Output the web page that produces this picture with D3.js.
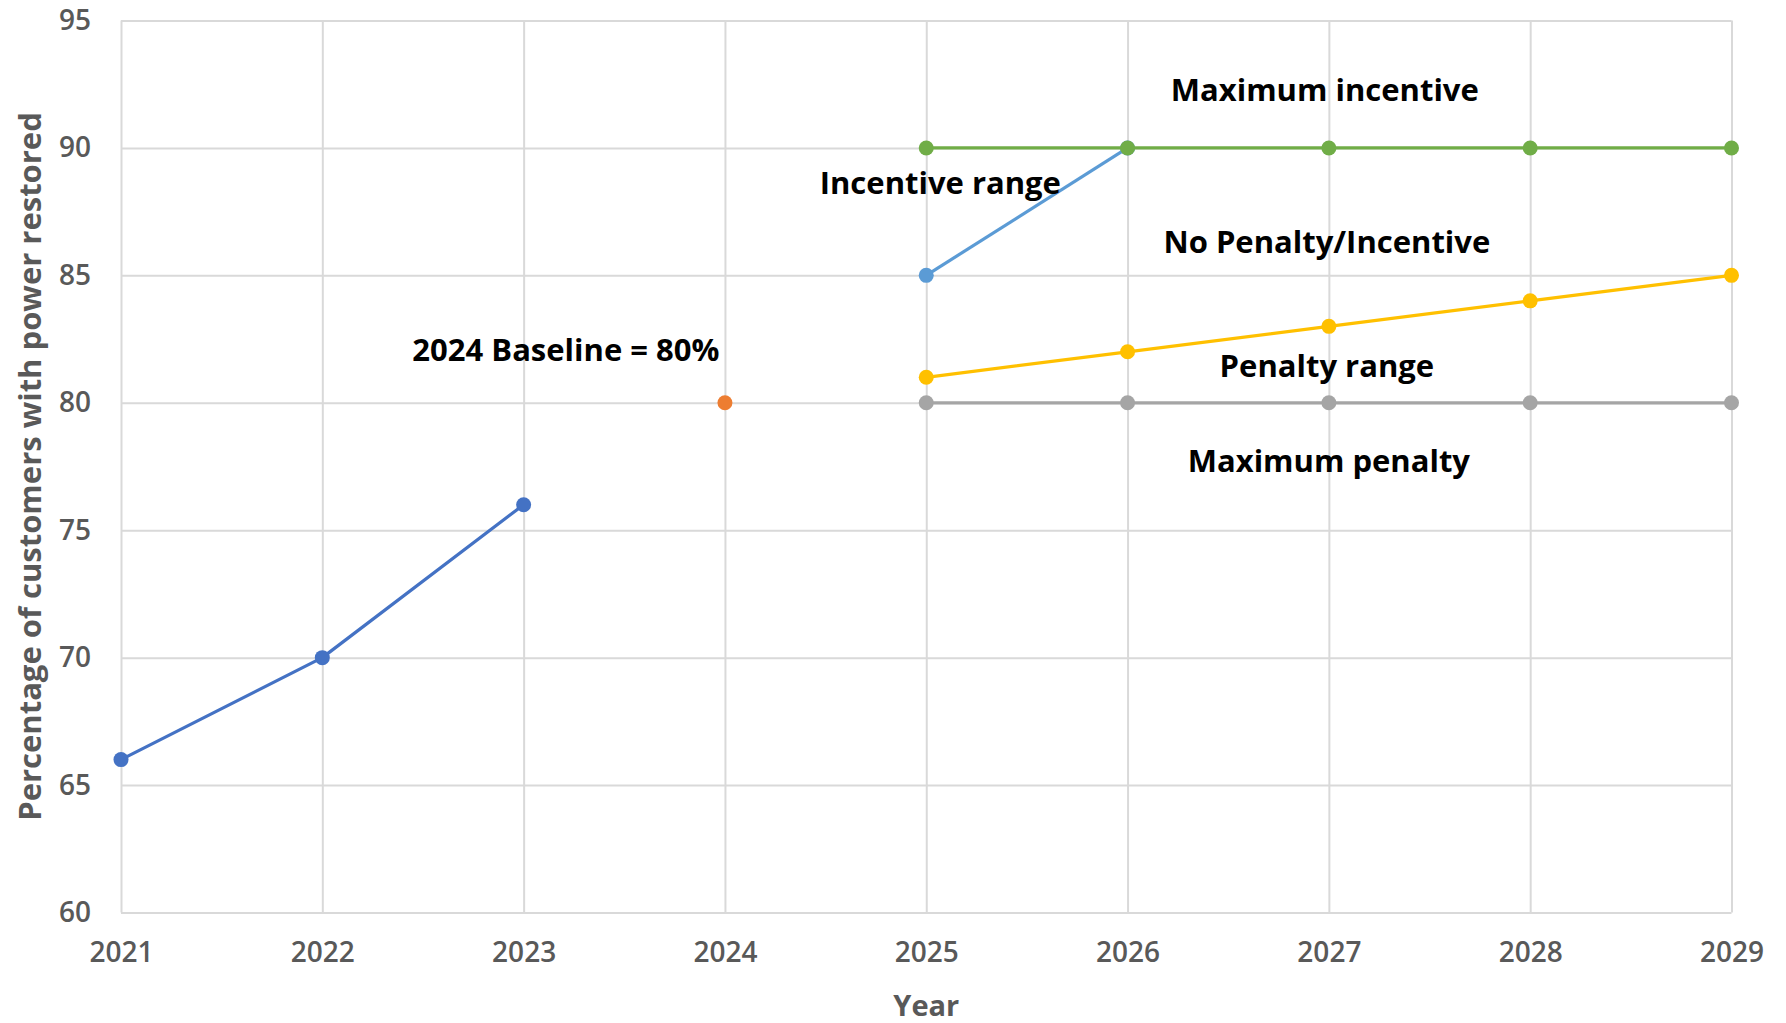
<!DOCTYPE html>
<html>
<head>
<meta charset="utf-8">
<script src="https://cdn.jsdelivr.net/npm/d3@7"></script>
<style>
  html, body { margin: 0; padding: 0; background: #ffffff; }
  svg { display: block; }
  text { font-family: "Open Sans", "Noto Sans", sans-serif; }
</style>
</head>
<body>
<svg id="chart" width="1786" height="1023"></svg>
<script>
// Years on the horizontal axis
const years = [2021, 2022, 2023, 2024, 2025, 2026, 2027, 2028, 2029];
const yTicks = [60, 65, 70, 75, 80, 85, 90, 95];

// Percentage of customers with power restored, by series
const historicalYears = [2021, 2022, 2023];
const historicalValues = [66, 70, 76];

const baselineYears = [2024];
const baselineValues = [80];

const incentiveRangeYears = [2025, 2026];
const incentiveRangeValues = [85, 90];

const targetYears = [2025, 2026, 2027, 2028, 2029];
const maxIncentiveValues = [90, 90, 90, 90, 90];
const noPenaltyValues = [81, 82, 83, 84, 85];
const maxPenaltyValues = [80, 80, 80, 80, 80];

// Annotation text, anchored in chart units (year, percent)
const annotations = [
  { text: "Maximum incentive",    year: 2026.98, value: 91.86 },
  { text: "Incentive range",      year: 2025.07, value: 88.19 },
  { text: "No Penalty/Incentive", year: 2026.99, value: 85.87 },
  { text: "2024 Baseline = 80%",  year: 2023.21, value: 81.62 },
  { text: "Penalty range",        year: 2026.99, value: 81.03 },
  { text: "Maximum penalty",      year: 2027.00, value: 77.30 }
];

const svg = d3.select("#chart");
const plotLeft = 121, plotRight = 1731.5, plotTop = 20.5, plotBottom = 912.5;

const x = d3.scaleLinear().domain([2021, 2029]).range([plotLeft, plotRight]);
const y = d3.scaleLinear().domain([60, 95]).range([plotBottom, plotTop]);

const gridColor = "#d9d9d9";
const labelColor = "#595959";

// Horizontal gridlines
svg.append("g")
  .attr("transform", `translate(${plotLeft},0)`)
  .call(d3.axisLeft(y).tickValues(yTicks).tickSize(-(plotRight - plotLeft)).tickFormat(""))
  .call(g => g.select(".domain").remove())
  .call(g => g.selectAll("line").attr("stroke", gridColor).attr("stroke-width", 2));

// Vertical gridlines
svg.append("g")
  .attr("transform", `translate(0,${plotBottom})`)
  .call(d3.axisBottom(x).tickValues(years).tickSize(-(plotBottom - plotTop)).tickFormat(""))
  .call(g => g.select(".domain").remove())
  .call(g => g.selectAll("line").attr("stroke", gridColor).attr("stroke-width", 2));

// Y tick labels
svg.append("g")
  .attr("transform", `translate(${plotLeft},0)`)
  .call(d3.axisLeft(y).tickValues(yTicks).tickSize(0).tickPadding(30))
  .call(g => g.select(".domain").remove())
  .call(g => g.selectAll("text")
    .attr("fill", labelColor)
    .attr("font-family", "'Open Sans', sans-serif")
    .attr("font-size", 28)
    .attr("font-weight", 600));

// X tick labels
svg.append("g")
  .attr("transform", `translate(0,${plotBottom})`)
  .call(d3.axisBottom(x).tickValues(years).tickSize(0).tickPadding(30).tickFormat(d3.format("d")))
  .call(g => g.select(".domain").remove())
  .call(g => g.selectAll("text")
    .attr("fill", labelColor)
    .attr("font-family", "'Open Sans', sans-serif")
    .attr("font-size", 28)
    .attr("font-weight", 600));

// Axis titles
svg.append("text")
  .attr("x", (plotLeft + plotRight) / 2)
  .attr("y", 1016)
  .attr("text-anchor", "middle")
  .attr("fill", labelColor)
  .attr("font-size", 29)
  .attr("font-weight", 700)
  .text("Year");

svg.append("text")
  .attr("transform", `translate(41,${(plotTop + plotBottom) / 2}) rotate(-90)`)
  .attr("text-anchor", "middle")
  .attr("fill", labelColor)
  .attr("font-size", 31)
  .attr("font-weight", 700)
  .text("Percentage of customers with power restored");

// Series lines with circular markers
const series = [
  { years: targetYears, values: maxPenaltyValues, color: "#a5a5a5" },
  { years: targetYears, values: noPenaltyValues, color: "#ffc000" },
  { years: incentiveRangeYears, values: incentiveRangeValues, color: "#5b9bd5" },
  { years: targetYears, values: maxIncentiveValues, color: "#70ad47" },
  { years: historicalYears, values: historicalValues, color: "#4472c4" },
  { years: baselineYears, values: baselineValues, color: "#ed7d31" }
];

const line = d3.line().x(d => x(d[0])).y(d => y(d[1]));

series.forEach(s => {
  const pts = s.years.map((yr, i) => [yr, s.values[i]]);
  const g = svg.append("g");
  if (pts.length > 1) {
    g.append("path")
      .datum(pts)
      .attr("d", line)
      .attr("fill", "none")
      .attr("stroke", s.color)
      .attr("stroke-width", 3.2)
      .attr("stroke-linejoin", "round");
  }
  g.selectAll("circle")
    .data(pts)
    .join("circle")
    .attr("cx", d => x(d[0]))
    .attr("cy", d => y(d[1]))
    .attr("r", 7.5)
    .attr("fill", s.color);
});

// Region annotations
svg.append("g")
  .selectAll("text")
  .data(annotations)
  .join("text")
  .attr("x", d => x(d.year))
  .attr("y", d => y(d.value))
  .attr("text-anchor", "middle")
  .attr("fill", "#000000")
  .attr("font-size", 31)
  .attr("font-weight", 700)
  .text(d => d.text);
</script>
</body>
</html>
